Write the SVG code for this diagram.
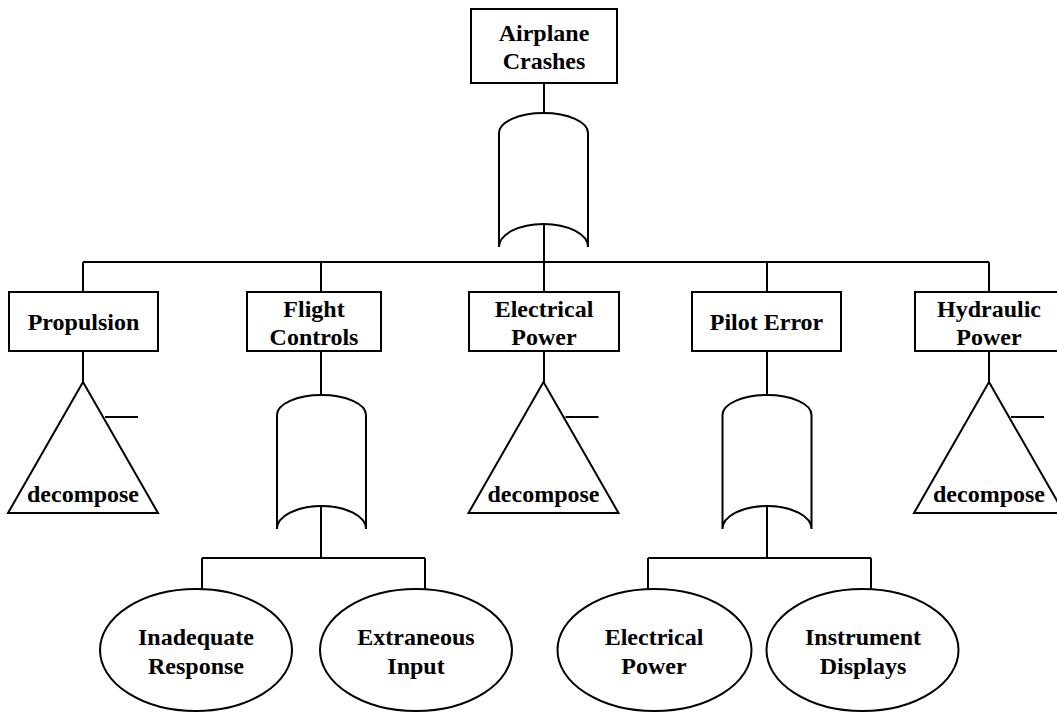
<svg xmlns="http://www.w3.org/2000/svg" xmlns:xlink="http://www.w3.org/1999/xlink" width="1057" height="713" viewBox="0 0 1057 713">
<style>
.shape{fill:#fff;stroke:#000;stroke-width:2}
.line{fill:none;stroke:#000;stroke-width:2}
text{font-family:"Liberation Serif","Times New Roman",serif;font-weight:bold;font-size:24px;fill:#000;text-anchor:middle}
</style>
<defs>
<path id="orgate" class="shape" d="M -44.5,20 A 44.5 20 0 0 1 44.5,20 L 44.5,134 A 44.5 23 0 0 0 -44.5,134 Z"/>
<g id="tri">
<path class="shape" d="M 0,0 L 75,131 L -75,131 Z"/>
<path class="line" d="M 22,35 H 55"/>
</g>
</defs>
<rect width="1057" height="713" fill="#fff"/>
<g id="connectors" class="line">
<path d="M 544,83 V 113"/>
<path d="M 544,224 V 262"/>
<path d="M 83,262 H 989"/>
<path d="M 83,262 V 292"/>
<path d="M 321,262 V 292"/>
<path d="M 544,262 V 292"/>
<path d="M 767,262 V 292"/>
<path d="M 989,262 V 292"/>
<path d="M 83,351 V 382"/>
<path d="M 544,351 V 382"/>
<path d="M 989,351 V 382"/>
<path d="M 321,351 V 395"/>
<path d="M 767,351 V 395"/>
<path d="M 321,507 V 558"/>
<path d="M 767,507 V 558"/>
<path d="M 202,558 H 425"/>
<path d="M 202,558 V 589"/>
<path d="M 425,558 V 589"/>
<path d="M 648,558 H 871"/>
<path d="M 648,558 V 589"/>
<path d="M 871,558 V 589"/>
</g>
<g id="airplane-crashes">
<rect class="shape" x="471" y="9" width="146" height="74"/>
<text x="544" y="41">Airplane</text>
<text x="544" y="69">Crashes</text>
</g>
<g id="gate-top"><use xlink:href="#orgate" href="#orgate" x="543.5" y="113"/></g>
<g id="propulsion">
<rect class="shape" x="9" y="292" width="149" height="59"/>
<text x="83.5" y="330">Propulsion</text>
</g>
<g id="flight-controls">
<rect class="shape" x="247" y="292" width="134" height="59"/>
<text x="314" y="317">Flight</text>
<text x="314" y="345">Controls</text>
</g>
<g id="electrical-power">
<rect class="shape" x="469" y="292" width="150" height="59"/>
<text x="544" y="317">Electrical</text>
<text x="544" y="345">Power</text>
</g>
<g id="pilot-error">
<rect class="shape" x="692" y="292" width="149" height="59"/>
<text x="766.5" y="330">Pilot Error</text>
</g>
<g id="hydraulic-power">
<rect class="shape" x="915" y="292" width="148" height="59"/>
<text x="989" y="317">Hydraulic</text>
<text x="989" y="345">Power</text>
</g>
<g id="propulsion-decompose">
<use xlink:href="#tri" href="#tri" x="83" y="382"/>
<text x="83" y="502">decompose</text>
</g>
<g id="electrical-decompose">
<use xlink:href="#tri" href="#tri" x="543.5" y="382"/>
<text x="543.5" y="502">decompose</text>
</g>
<g id="hydraulic-decompose">
<use xlink:href="#tri" href="#tri" x="989" y="382"/>
<text x="989" y="502">decompose</text>
</g>
<g id="gate-flight"><use xlink:href="#orgate" href="#orgate" x="321.5" y="395"/></g>
<g id="gate-pilot"><use xlink:href="#orgate" href="#orgate" x="767" y="395"/></g>
<g id="inadequate-response">
<ellipse class="shape" cx="196" cy="650" rx="96" ry="61"/>
<text x="196" y="645">Inadequate</text>
<text x="196" y="674">Response</text>
</g>
<g id="extraneous-input">
<ellipse class="shape" cx="416" cy="650" rx="96" ry="61"/>
<text x="416" y="645">Extraneous</text>
<text x="416" y="674">Input</text>
</g>
<g id="electrical-power-event">
<ellipse class="shape" cx="654.5" cy="650" rx="97" ry="61"/>
<text x="654" y="645">Electrical</text>
<text x="654" y="674">Power</text>
</g>
<g id="instrument-displays">
<ellipse class="shape" cx="862.5" cy="650" rx="96" ry="61"/>
<text x="863" y="645">Instrument</text>
<text x="863" y="674">Displays</text>
</g>
</svg>
